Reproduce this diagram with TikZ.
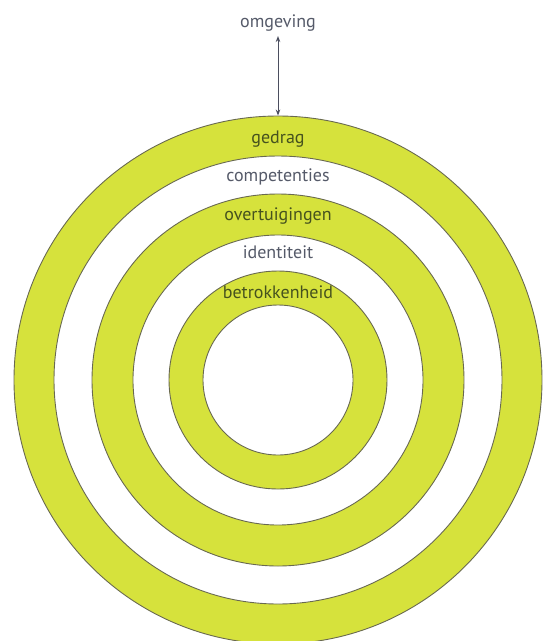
\documentclass[tikz,border=0pt]{standalone}
\usepackage{fontspec}
\setmainfont{PT Sans}
\usetikzlibrary{arrows.meta}
\definecolor{ringgreen}{RGB}{214,226,60}
\definecolor{ringline}{RGB}{105,105,80}
\definecolor{graytext}{RGB}{85,90,105}
\definecolor{oliveText}{RGB}{70,82,30}
\definecolor{arrowcol}{RGB}{75,78,95}
\tikzset{
  ring/.style={circle, draw=ringline, line width=0.9pt, inner sep=0pt},
  greenring/.style={ring, fill=ringgreen},
  whitering/.style={ring, fill=white},
  lbl/.style={anchor=base, inner sep=0pt, font=\fontsize{18}{20}\selectfont},
  onwhite/.style={lbl, text=graytext},
  ongreen/.style={lbl, text=oliveText},
  link/.style={draw=arrowcol, line width=0.9pt, {Stealth[length=6pt,width=4.5pt]}-{Stealth[length=6pt,width=4.5pt]}}
}
\begin{document}
\begin{tikzpicture}[x=1pt,y=-1pt]
\useasboundingbox (0,0) rectangle (545,641);
\node[greenring, minimum size=528pt] (c1) at (278,380) {};
\node[whitering, minimum size=448pt] (c2) at (278,380) {};
\node[greenring, minimum size=372pt] (c3) at (278,380) {};
\node[whitering, minimum size=290pt] (c4) at (278,380) {};
\node[greenring, minimum size=218pt] (c5) at (278,380) {};
\node[whitering, minimum size=150pt] (c6) at (278,380) {};
\node[onwhite] (omg) at (278,27) {omgeving};
\node[ongreen] (l1) at (278,143) {gedrag};
\node[onwhite] (l2) at (278,181) {competenties};
\node[ongreen] (l3) at (278,220) {overtuigingen};
\node[onwhite] (l4) at (278,258) {identiteit};
\node[ongreen] (l5) at (278,298) {betrokkenheid};
\coordinate (atop) at ([yshift=-5pt]omg.south);
\draw[link] (atop) -- (c1.north);
\end{tikzpicture}
\end{document}
